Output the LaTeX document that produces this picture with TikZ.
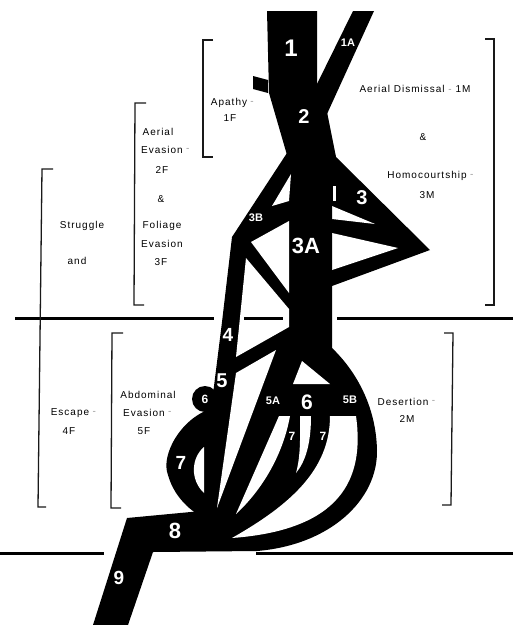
\documentclass[tikz,border=0pt]{standalone}
\usepackage{fontspec}
\setsansfont{Liberation Sans}
\newfontfamily\lblfont[LetterSpace=10]{Liberation Sans}
\usetikzlibrary{positioning}

\begin{document}
\begin{tikzpicture}[
  x=1pt, y=-1pt,
  font=\sffamily\small,
  band/.style ={fill=black},
  hole/.style ={fill=white},
  rule/.style ={line width=3pt},
  brk/.style  ={line width=1.3pt, black!90},
  lbl/.style  ={font=\lblfont\fontsize{10}{12}\selectfont, text=black, inner sep=0pt},
  dsh/.style  ={font=\lblfont\fontsize{10}{12}\selectfont, text=black!40, inner sep=0pt},
  num/.style  ={font=\sffamily\bfseries\fontsize{20}{20}\selectfont, text=white, inner sep=0pt},
  sml/.style  ={font=\sffamily\bfseries\fontsize{11}{11}\selectfont, text=white, inner sep=0pt},
  node distance=3pt
]
\useasboundingbox (0,0) rectangle (513,625);

% ---- Upper trunk: 1, 1A, 2 ----------------------------------------------------
\fill[band] (267,11) -- (317,11) -- (317,86) -- (327,112) -- (336,157) -- (287,155) -- (269,93) -- cycle;
\fill[band] (253,76) -- (268,80) -- (268,93) -- (253,89) -- cycle;
\fill[band] (353,11) -- (374,11) -- (327,114) -- (316,86) -- cycle;

% ---- Right wedge: 3 ------------------------------------------------------------
\fill[band] (332,148) -- (336,157) -- (430,250) -- (332,286) -- cycle;
\fill[hole] (333,186) rectangle (335.5,201);
\fill[hole] (332,206) -- (375,224) -- (332,219) -- cycle;
\fill[hole] (332,233) -- (398,248) -- (332,270) -- cycle;

% ---- Body: 3A, 3B, 4, 5, 5A, 6, 5B and the desertion loop -----------------------
\fill[band] (289,150) -- (287,153) -- (232,237) -- (222,322) -- (214,386) -- (206,450)
  -- (204,500) -- (207,522) -- (215,540) -- (257,551)
  .. controls (330,545) and (378,500) .. (377,450)
  .. controls (376,405) and (355,370) .. (332,348) -- (332,150) -- cycle;
\fill[band] (205,399) circle (13pt);
\fill[band] (214,408) .. controls (182,416) and (160,455) .. (168,475)
  .. controls (175,500) and (195,515) .. (212,522) -- cycle;

% ---- 8 and 9 -------------------------------------------------------------------
\fill[band] (127,518) -- (212,510) -- (257,551) -- (153,552) -- (128,625) -- (93,625) -- cycle;

% ---- Openings between the paths -------------------------------------------------
\fill[hole] (291,174) -- (289,201) -- (272,206) -- cycle;
\fill[hole] (251,242) -- (289,221) -- (289,293) -- cycle;
\fill[hole] (246,258) -- (289,309) -- (289,327) -- (236,357) -- cycle;
\fill[hole] (236,373) -- (276,350) -- (217,508) -- cycle;
\fill[hole] (293,384) -- (302,361) -- (330,384) -- cycle;
\fill[hole] (279,416) -- (290,416) .. controls (283,455) and (262,490) .. (236,514) -- cycle;
\fill[hole] (300,416) -- (311,416) .. controls (311,445) and (305,462) .. (296,473)
  .. controls (301,455) and (300,435) .. (300,416) -- cycle;
\fill[hole] (330,416) -- (356,416) .. controls (365,480) and (340,530) .. (232,538)
  .. controls (290,505) and (330,470) .. (330,416) -- cycle;
\fill[hole] (204,447) .. controls (191,458) and (190,480) .. (204,493) -- cycle;

% ---- Ground lines ----------------------------------------------------------------
\draw[rule] (15,318) -- (214,318);
\draw[rule] (244,318) -- (283,318);
\draw[rule] (337,318) -- (513,318);
\draw[rule] (0,553) -- (104,553);
\draw[rule] (256,553) -- (513,553);

% ---- Brackets --------------------------------------------------------------------
\draw[brk] (213,40) -- (203,40) -- (203,157) -- (213,157);
\draw[brk] (146,103) -- (135,103) -- (134,305) -- (144,305);
\draw[brk] (53,169) -- (42,169) -- (38,507) -- (46,507);
\draw[brk] (123,333) -- (112,333) -- (111,508) -- (121,508);
\draw[brk] (485,39) -- (494,39) -- (494,305) -- (485,305);
\draw[brk] (444,333) -- (453,333) -- (451,505) -- (442,505);

% ---- Female side labels ----------------------------------------------------------
\node[lbl] (apathy) at (229,103) {Apathy};
\node[dsh, right=of apathy] (apathyd) {-};
\node[lbl] (onef) at (230,118) {1F};
\node[lbl] (aerialf) at (158,132) {Aerial};
\node[lbl] (evasionf) at (162,150) {Evasion};
\node[dsh, right=of evasionf] (evasionfd) {-};
\node[lbl] (twof) at (162,170) {2F};
\node[lbl] (andf) at (161,199) {\&};
\node[lbl] (foliage) at (162,226) {Foliage};
\node[lbl] (evasiong) at (162,244) {Evasion};
\node[lbl] (threef) at (161,262) {3F};
\node[lbl] (struggle) at (82,226) {Struggle};
\node[lbl] (andg) at (77,261) {and};
\node[lbl] (escape) at (70,413) {Escape};
\node[dsh, right=of escape] (escaped) {-};
\node[lbl] (fourf) at (69,431) {4F};
\node[lbl] (abdominal) at (148,395) {Abdominal};
\node[lbl] (evasionh) at (144,413) {Evasion};
\node[dsh, right=of evasionh] (evasionhd) {-};
\node[lbl] (fivef) at (144,431) {5F};

% ---- Male side labels ------------------------------------------------------------
\node[lbl] (dismissal) at (415,89) {Aerial Dismissal {\color{black!40}-} 1M};
\node[lbl] (andm) at (423,137) {\&};
\node[lbl] (homo) at (427,176) {Homocourtship};
\node[dsh, right=of homo] (homod) {-};
\node[lbl] (threem) at (427,195) {3M};
\node[lbl] (desertion) at (403,402) {Desertion};
\node[dsh, right=of desertion] (desertiond) {-};
\node[lbl] (twom) at (407,419) {2M};

% ---- Numbers on the paths --------------------------------------------------------
\node[num, font=\sffamily\bfseries\fontsize{24}{24}\selectfont] (s1) at (291,48) {1};
\node[sml] (s1a) at (348,43) {1A};
\node[num] (s2) at (304,117) {2};
\node[num] (s3) at (362,198) {3};
\node[sml] (s3b) at (256,218) {3B};
\node[num, font=\sffamily\bfseries\fontsize{22}{22}\selectfont] (s3a) at (306,246) {3A};
\node[num, font=\sffamily\bfseries\fontsize{19}{19}\selectfont] (s4) at (228,335) {4};
\node[num] (s5) at (222,381) {5};
\node[sml, font=\sffamily\bfseries\fontsize{12}{12}\selectfont] (s6l) at (205,399) {6};
\node[sml] (s5a) at (273,401) {5A};
\node[num, font=\sffamily\bfseries\fontsize{21}{21}\selectfont] (s6) at (307,402) {6};
\node[sml] (s5b) at (350,400) {5B};
\node[sml, font=\sffamily\bfseries\fontsize{12}{12}\selectfont] (s7a) at (292,436) {7};
\node[sml, font=\sffamily\bfseries\fontsize{12}{12}\selectfont] (s7b) at (323,436) {7};
\node[num, font=\sffamily\bfseries\fontsize{19}{19}\selectfont] (s7) at (181,463) {7};
\node[num, font=\sffamily\bfseries\fontsize{22}{22}\selectfont] (s8) at (175,531) {8};
\node[num, font=\sffamily\bfseries\fontsize{19}{19}\selectfont] (s9) at (119,578) {9};

\end{tikzpicture}
\end{document}
